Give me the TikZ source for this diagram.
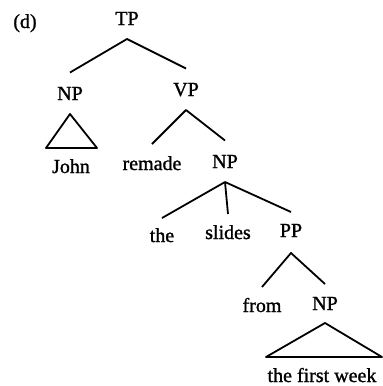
\documentclass[tikz,border=0pt]{standalone}
\usepackage{fontspec}
\setmainfont{Liberation Serif}
\newfontfamily\lblfont[FakeBold=1.2]{Liberation Serif}
\begin{document}
\begin{tikzpicture}[x=1pt,y=-1pt,
  lbl/.style={anchor=base,inner sep=0pt,outer sep=0pt,font=\lblfont\fontsize{20}{24}\selectfont,text height=13.5pt,text depth=0pt},
  br/.style={line width=1.8pt,line join=round}]
\useasboundingbox (0,0) rectangle (383,386);
\node[lbl] (d) at (25,28) {(d)};
\node[lbl] (TP) at (127,25) {TP};
\node[lbl] (NPa) at (70,100) {NP};
\node[lbl] (VP) at (186,96) {VP};
\node[lbl] (John) at (71,173) {John};
\node[lbl] (remade) at (152,170) {remade};
\node[lbl] (NPb) at (225,168) {NP};
\node[lbl] (the) at (162,242) {the};
\node[lbl] (slides) at (228,239) {slides};
\node[lbl] (PP) at (291,237) {PP};
\node[lbl] (from) at (262,312) {from};
\node[lbl] (NPc) at (325,310) {NP};
\node[lbl] (tfw) at (322,382) {the first week};
% TP
\draw[br] ([yshift=14pt]NPa.north) -- ([yshift=-14pt]TP.south) -- ([yshift=14pt]VP.north);
% NP triangle (John)
\draw[br] ([yshift=-14pt]NPa.south) -- ++(-24,34) -- ++(51,0) -- cycle;
% VP
\draw[br] ([yshift=12.5pt]remade.north) -- ([yshift=-14pt]VP.south) -- ([yshift=14pt]NPb.north);
% NP (the slides PP)
\draw[br] ([yshift=-14pt]NPb.south) -- ([yshift=10.5pt]the.north);
\draw[br] ([yshift=-14pt]NPb.south) -- ([yshift=11.5pt]slides.north);
\draw[br] ([yshift=-14pt]NPb.south) -- ([yshift=11.5pt]PP.north);
% PP
\draw[br] ([yshift=11.5pt]from.north) -- ([yshift=-16pt]PP.south) -- ([yshift=12.5pt]NPc.north);
% NP triangle (the first week)
\draw[br] ([yshift=-13pt]NPc.south) -- ++(-59,34) -- ++(116,0) -- cycle;
\end{tikzpicture}
\end{document}
